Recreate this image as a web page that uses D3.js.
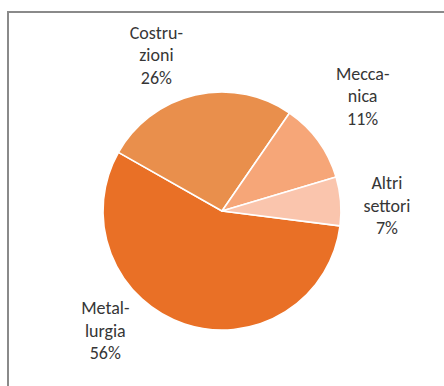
<!DOCTYPE html>
<html>
<head>
<meta charset="utf-8">
<script src="https://cdn.jsdelivr.net/npm/d3@7"></script>
<style>
  html, body { margin: 0; padding: 0; background: #fff; }
  svg { display: block; }
</style>
</head>
<body>
<svg id="chart" width="444" height="386"></svg>
<script>
// ---- data ----
const categories = ["Metallurgia", "Costruzioni", "Meccanica", "Altri settori"];
const labelLines = [["Metal-", "lurgia"], ["Costru-", "zioni"], ["Mecca-", "nica"], ["Altri", "settori"]];
const values = [56.2, 26.4, 10.8, 6.6];
const colors = ["#E97026", "#E98F4C", "#F6A678", "#FAC5AD"];

// ---- layout ----
const W = 444, H = 386;
const cx = 222, cy = 211, R = 119;
const startDeg = 97.2;
// label placement (polar, relative to pie centre): angle in degrees clockwise from 12 o'clock, distance in px
const labelPolar = [[224, 168], [337, 168], [51, 181], [88.6, 165]];

const svg = d3.select("#chart");

// frame
svg.append("rect")
  .attr("x", 8).attr("y", 12)
  .attr("width", W + 20).attr("height", H + 20)
  .attr("fill", "none")
  .attr("stroke", "#8a8a8a")
  .attr("stroke-width", 2);

const data = categories.map((c, i) => ({ name: c, value: values[i], lines: labelLines[i], color: colors[i], idx: i }));

const pie = d3.pie()
  .sort(null)
  .value(d => d.value)
  .startAngle(startDeg * Math.PI / 180)
  .endAngle(startDeg * Math.PI / 180 + 2 * Math.PI);

const arc = d3.arc().innerRadius(0).outerRadius(R);

const g = svg.append("g").attr("transform", `translate(${cx},${cy})`);

g.selectAll("path.slice")
  .data(pie(data))
  .join("path")
  .attr("class", "slice")
  .attr("d", arc)
  .attr("fill", d => d.data.color)
  .attr("stroke", "#fff")
  .attr("stroke-width", 1.6)
  .attr("stroke-linejoin", "round");

const total = d3.sum(values);
const lineH = 22.5;

g.selectAll("text.lbl")
  .data(pie(data))
  .join("text")
  .attr("class", "lbl")
  .attr("text-anchor", "middle")
  .attr("font-family", "Carlito, Calibri, Lato, 'Open Sans', sans-serif")
  .attr("font-size", 18)
  .attr("fill", "#363636")
  .each(function(d) {
    const [ang, dist] = labelPolar[d.data.idx];
    const a = ang * Math.PI / 180;
    const x = Math.sin(a) * dist;
    const y = -Math.cos(a) * dist;
    const lines = d.data.lines.concat([Math.round(d.data.value / total * 100) + "%"]);
    const t = d3.select(this);
    lines.forEach((ln, k) => {
      t.append("tspan")
        .attr("x", x)
        .attr("y", y + (k - 1) * lineH + 5)
        .text(ln);
    });
  });
</script>
</body>
</html>
